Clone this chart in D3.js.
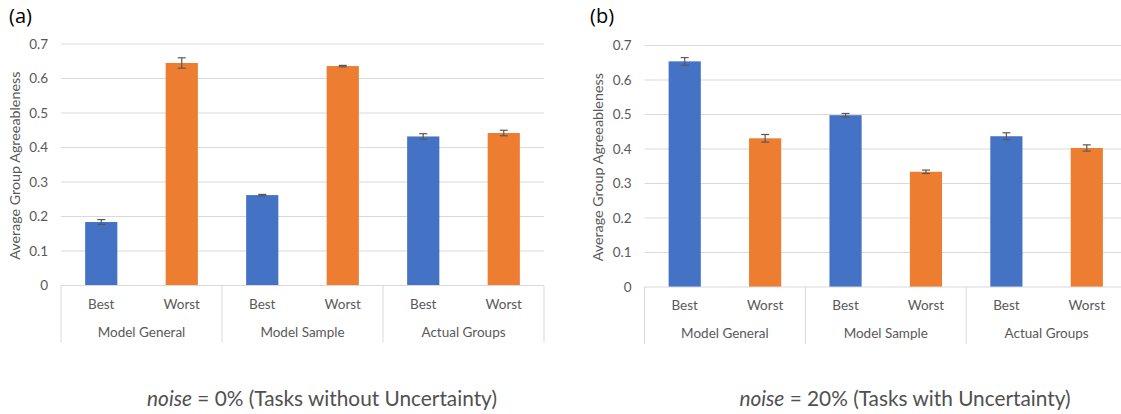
<!DOCTYPE html>
<html>
<head>
<meta charset="utf-8">
<script src="https://cdn.jsdelivr.net/npm/d3@7"></script>
<style>
  body { margin: 0; background: #fff; }
  svg { display: block; font-family: Lato, "Open Sans", sans-serif; }
</style>
</head>
<body>
<div id="chart"></div>
<script>
// Données
const groups = ["Model General", "Model Sample", "Actual Groups"];
const categories = ["Best", "Worst"];
const yTicks = [0, 0.1, 0.2, 0.3, 0.4, 0.5, 0.6, 0.7];

// (a) noise = 0%
const valuesA = [0.184, 0.645, 0.262, 0.636, 0.432, 0.442];
const errorsA = [0.007, 0.015, 0.002, 0.002, 0.008, 0.008];
// (b) noise = 20%
const valuesB = [0.654, 0.431, 0.498, 0.334, 0.437, 0.403];
const errorsB = [0.011, 0.011, 0.005, 0.005, 0.010, 0.009];

const colors = { Best: "#4472C4", Worst: "#ED7D31" };

const W = 1121, H = 414;
const svg = d3.select("#chart").append("svg")
    .attr("width", W)
    .attr("height", H);

const drawPanel = (opt) => {
    const g = svg.append("g");

    const keys = [];
    groups.forEach(gr => categories.forEach(c => keys.push(gr + "|" + c)));

    const x = d3.scaleBand()
        .domain(keys)
        .range([opt.left, opt.right])
        .paddingInner(0.6)
        .paddingOuter(0.3);

    const xg = d3.scaleBand()
        .domain(groups)
        .range([opt.left, opt.right]);

    const y = d3.scaleLinear()
        .domain([0, 0.7])
        .range([opt.zero, opt.top]);

    // Grille horizontale
    g.selectAll(".grid")
        .data(yTicks.slice(1))
        .enter()
        .append("line")
        .attr("x1", opt.left)
        .attr("x2", opt.right)
        .attr("y1", d => y(d))
        .attr("y2", d => y(d))
        .attr("stroke", "#D9D9D9")
        .attr("stroke-width", 1);

    // Axe Y (étiquettes seulement)
    const yAxis = g.append("g")
        .attr("transform", `translate(${opt.left},0)`)
        .call(d3.axisLeft(y).tickValues(yTicks).tickSize(0).tickPadding(13)
            .tickFormat(d => d === 0 ? "0" : d3.format(".1f")(d)));
    yAxis.select(".domain").remove();
    yAxis.selectAll("text")
        .attr("fill", "#595959")
        .attr("font-size", 13.5)
        .attr("font-family", "Lato, sans-serif");

    // Titre de l'axe Y
    g.append("text")
        .attr("transform", `translate(${opt.left - 45},${(opt.top + opt.zero) / 2 + 1}) rotate(-90)`)
        .attr("text-anchor", "middle")
        .attr("dominant-baseline", "middle")
        .attr("fill", "#595959")
        .attr("font-size", 14.3)
        .text("Average Group Agreeableness");

    // Barres
    const data = keys.map((k, i) => ({
        key: k,
        cat: k.split("|")[1],
        value: opt.values[i],
        err: opt.errors[i]
    }));

    g.selectAll(".bar")
        .data(data)
        .enter()
        .append("rect")
        .attr("class", "bar")
        .attr("x", d => x(d.key))
        .attr("y", d => y(d.value))
        .attr("width", x.bandwidth())
        .attr("height", d => y(0) - y(d.value))
        .attr("fill", d => colors[d.cat]);

    // Barres d'erreur
    const eb = g.selectAll(".err")
        .data(data)
        .enter()
        .append("g")
        .attr("stroke", "#595959")
        .attr("stroke-width", 1.2);
    const cx = d => x(d.key) + x.bandwidth() / 2;
    eb.append("line")
        .attr("x1", cx).attr("x2", cx)
        .attr("y1", d => y(d.value + d.err))
        .attr("y2", d => y(d.value - d.err));
    eb.append("line")
        .attr("x1", d => cx(d) - 4).attr("x2", d => cx(d) + 4)
        .attr("y1", d => y(d.value + d.err))
        .attr("y2", d => y(d.value + d.err));
    eb.append("line")
        .attr("x1", d => cx(d) - 4).attr("x2", d => cx(d) + 4)
        .attr("y1", d => y(d.value - d.err))
        .attr("y2", d => y(d.value - d.err));

    // Ligne de base et séparateurs de groupes
    g.append("line")
        .attr("x1", opt.left).attr("x2", opt.right)
        .attr("y1", y(0)).attr("y2", y(0))
        .attr("stroke", "#D9D9D9");
    const seps = groups.map(gr => xg(gr)).concat([opt.right]);
    g.selectAll(".sep")
        .data(seps)
        .enter()
        .append("line")
        .attr("x1", d => d).attr("x2", d => d)
        .attr("y1", y(0)).attr("y2", y(0) + 57)
        .attr("stroke", "#D9D9D9");

    // Étiquettes des catégories
    g.selectAll(".cat")
        .data(data)
        .enter()
        .append("text")
        .attr("x", cx)
        .attr("y", y(0) + 20)
        .attr("text-anchor", "middle")
        .attr("dominant-baseline", "middle")
        .attr("fill", "#595959")
        .attr("font-size", 13.5)
        .text(d => d.cat);

    g.selectAll(".grp")
        .data(groups)
        .enter()
        .append("text")
        .attr("x", d => xg(d) + xg.bandwidth() / 2)
        .attr("y", y(0) + 48)
        .attr("text-anchor", "middle")
        .attr("dominant-baseline", "middle")
        .attr("fill", "#595959")
        .attr("font-size", 13.5)
        .text(d => d);

    // Lettre du panneau
    g.append("text")
        .attr("x", opt.labelX)
        .attr("y", 18)
        .attr("dominant-baseline", "middle")
        .attr("fill", "#000")
        .attr("font-size", 20)
        .attr("font-family", "'Open Sans', sans-serif")
        .text(opt.label);

    // Légende du bas
    const cap = g.append("text")
        .attr("x", opt.capX)
        .attr("y", 401)
        .attr("text-anchor", "middle")
        .attr("dominant-baseline", "middle")
        .attr("fill", "#505050")
        .attr("font-size", 20.8);
    cap.append("tspan").attr("font-style", "italic").text("noise");
    cap.append("tspan").text(opt.caption);
};

drawPanel({
    left: 61, right: 544, top: 44, zero: 285.5,
    values: valuesA, errors: errorsA,
    label: "(a)", labelX: 9,
    capX: 322, caption: " = 0% (Tasks without Uncertainty)"
});

drawPanel({
    left: 644.5, right: 1127, top: 45.5, zero: 287,
    values: valuesB, errors: errorsB,
    label: "(b)", labelX: 590,
    capX: 905, caption: " = 20% (Tasks with Uncertainty)"
});
</script>
</body>
</html>
